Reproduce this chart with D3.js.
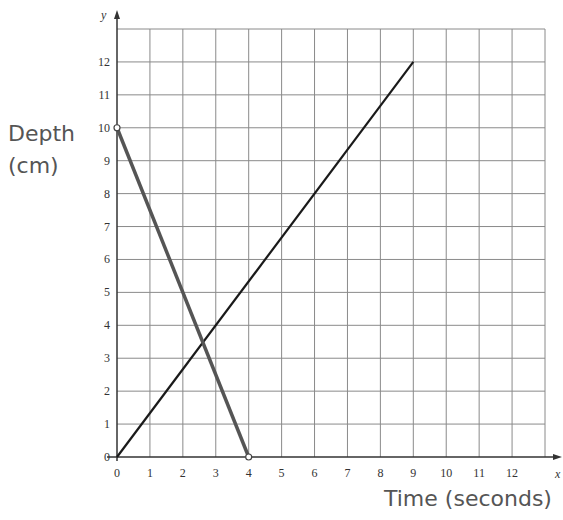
<!DOCTYPE html>
<html>
<head>
<meta charset="utf-8">
<script src="https://d3js.org/d3.v7.min.js"></script>
<style>
  body { margin: 0; background: #fff; }
</style>
</head>
<body>
<div id="chart"></div>
<script>
var xTicks = [0, 1, 2, 3, 4, 5, 6, 7, 8, 9, 10, 11, 12];
var yTicks = [0, 1, 2, 3, 4, 5, 6, 7, 8, 9, 10, 11, 12];
var lineA = [{x: 0, y: 10}, {x: 4, y: 0}];   // draining
var lineB = [{x: 0, y: 0}, {x: 9, y: 12}];   // filling

var svg = d3.select("#chart").append("svg")
            .attr("width", 563)
            .attr("height", 520);

var x = d3.scaleLinear().domain([0, 13]).range([117, 545]);
var y = d3.scaleLinear().domain([0, 13]).range([457, 29]);

var gridVals = d3.range(0, 14);

// grid
svg.selectAll(".vgrid")
   .data(gridVals.slice(1))
   .enter()
   .append("line")
   .attr("x1", function(d) { return x(d); })
   .attr("x2", function(d) { return x(d); })
   .attr("y1", y(0))
   .attr("y2", y(13))
   .attr("stroke", "#8a8a8a")
   .attr("stroke-width", 1);

svg.selectAll(".hgrid")
   .data(gridVals.slice(1))
   .enter()
   .append("line")
   .attr("x1", x(0))
   .attr("x2", x(13))
   .attr("y1", function(d) { return y(d); })
   .attr("y2", function(d) { return y(d); })
   .attr("stroke", "#8a8a8a")
   .attr("stroke-width", 1);

// axes
svg.append("line")
   .attr("x1", x(0) - 10).attr("x2", 558)
   .attr("y1", y(0)).attr("y2", y(0))
   .attr("stroke", "#333").attr("stroke-width", 1.5);
svg.append("path")
   .attr("d", "M562," + y(0) + " l-9,-3 l0,6 z")
   .attr("fill", "#333");

svg.append("line")
   .attr("x1", x(0)).attr("x2", x(0))
   .attr("y1", y(0) + 4).attr("y2", 14)
   .attr("stroke", "#333").attr("stroke-width", 1.5);
svg.append("path")
   .attr("d", "M" + x(0) + ",10 l-3,9 l6,0 z")
   .attr("fill", "#333");

// tick labels
svg.selectAll(".xlab")
   .data(xTicks)
   .enter()
   .append("text")
   .text(function(d) { return d; })
   .attr("x", function(d) { return x(d); })
   .attr("y", 477)
   .attr("text-anchor", "middle")
   .style("font-family", "Liberation Serif, serif")
   .style("font-size", "12px")
   .style("fill", "#333");

svg.selectAll(".ylab")
   .data(yTicks)
   .enter()
   .append("text")
   .text(function(d) { return d; })
   .attr("x", x(0) - 7)
   .attr("y", function(d) { return y(d) + 4; })
   .attr("text-anchor", "end")
   .style("font-family", "Liberation Serif, serif")
   .style("font-size", "12px")
   .style("fill", "#333");

svg.append("text").text("y")
   .attr("x", 101).attr("y", 19)
   .style("font-family", "Liberation Serif, serif")
   .style("font-style", "italic")
   .style("font-size", "12px")
   .style("fill", "#333");
svg.append("text").text("x")
   .attr("x", 555).attr("y", 478)
   .style("font-family", "Liberation Serif, serif")
   .style("font-style", "italic")
   .style("font-size", "12px")
   .style("fill", "#333");

// lines
var line = d3.line()
             .x(function(d) { return x(d.x); })
             .y(function(d) { return y(d.y); });

svg.append("path")
   .datum(lineB)
   .attr("d", line)
   .attr("fill", "none")
   .attr("stroke", "#1a1a1a")
   .attr("stroke-width", 2.2);

svg.append("path")
   .datum(lineA)
   .attr("d", line)
   .attr("fill", "none")
   .attr("stroke", "#555")
   .attr("stroke-width", 3.5);

svg.selectAll(".dot")
   .data(lineA)
   .enter()
   .append("circle")
   .attr("cx", function(d) { return x(d.x); })
   .attr("cy", function(d) { return y(d.y); })
   .attr("r", 3)
   .attr("fill", "#fff")
   .attr("stroke", "#444")
   .attr("stroke-width", 1.2);

// titles
var hand = "Comic Sans MS, DejaVu Sans, sans-serif";
svg.append("text").text("Depth")
   .attr("x", 8).attr("y", 141)
   .style("font-family", hand)
   .style("font-size", "22px")
   .style("fill", "#555");
svg.append("text").text("(cm)")
   .attr("x", 8).attr("y", 173)
   .style("font-family", hand)
   .style("font-size", "22px")
   .style("fill", "#555");
svg.append("text").text("Time (seconds)")
   .attr("x", 384).attr("y", 506)
   .style("font-family", hand)
   .style("font-size", "22px")
   .style("fill", "#555");
</script>
</body>
</html>
